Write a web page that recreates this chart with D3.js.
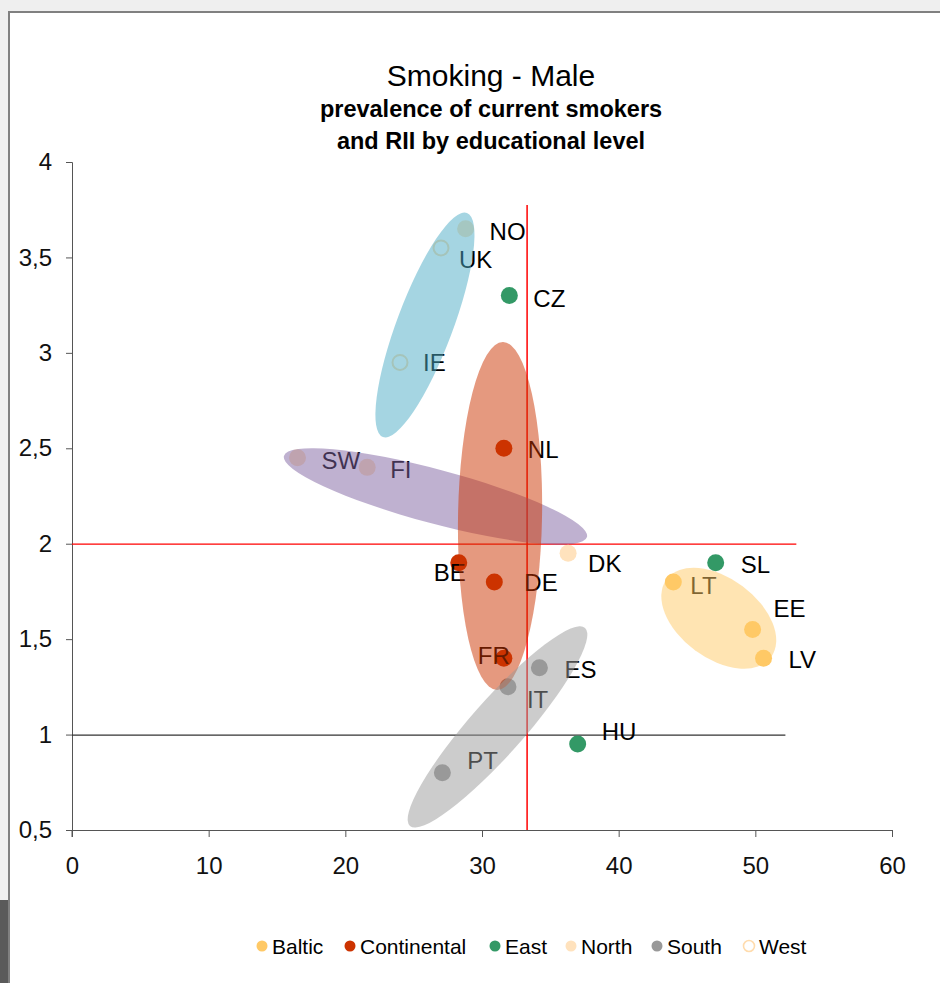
<!DOCTYPE html>
<html>
  <head>
    <meta charset="utf-8" />
    <title>Smoking - Male</title>
    <script src="https://d3js.org/d3.v7.min.js"></script>
    <style>
      body { margin: 0; background: #efefef; }
      text { font-family: "Liberation Sans", Arial, sans-serif; }
    </style>
  </head>
  <body>
    <script>
      // country values: prevalence of current smokers (%) and RII
      let countries = ["NO", "UK", "CZ", "IE", "NL", "SW", "FI", "DK", "BE", "DE",
                       "SL", "LT", "EE", "LV", "FR", "ES", "IT", "HU", "PT"];
      let prevalence = [28.8, 27.0, 32.0, 24.0, 31.6, 16.5, 21.6, 36.3, 28.3, 30.9,
                        47.1, 44.0, 49.8, 50.6, 31.6, 34.2, 31.9, 37.0, 27.1];
      let rii = [3.65, 3.55, 3.30, 2.95, 2.50, 2.45, 2.40, 1.95, 1.90, 1.80,
                 1.90, 1.80, 1.55, 1.40, 1.40, 1.35, 1.25, 0.95, 0.80];
      let region = ["North", "West", "East", "West", "Continental", "North", "North",
                    "North", "Continental", "Continental", "East", "Baltic", "Baltic",
                    "Baltic", "Continental", "South", "South", "East", "South"];

      let regions = ["Baltic", "Continental", "East", "North", "South", "West"];
      let xTicks = [0, 10, 20, 30, 40, 50, 60];
      let yTicks = [0.5, 1, 1.5, 2, 2.5, 3, 3.5, 4];

      let colors = {
        Baltic: "#ffc966",
        Continental: "#cc3300",
        East: "#339966",
        North: "#ffe2bd",
        South: "#999999",
        West: "#ffdcae",
      };

      // label offsets (px) from each point
      let nudge = {
        NO: [24, 11], UK: [18, 20], CZ: [24, 11], IE: [23, 9], NL: [24, 10],
        SW: [24, 11], FI: [23, 11], DK: [20, 19], BE: [-25, 18], DE: [30, 9],
        SL: [25, 10], LT: [17, 12], EE: [21, -13], LV: [25, 10], FR: [-26, 6],
        ES: [25, 10], IT: [19, 21], HU: [24, -4], PT: [25, -4],
      };

      // translucent group ellipses: major axis ends in data units, half width in px
      let halos = [
        { ends: [28.9, 3.733, 22.75, 2.559], half: 28, fill: "#4bacc6" },
        { ends: [15.51, 2.46, 37.68, 2.035], half: 27, fill: "#8064a2" },
        { ends: [31.54, 3.057, 31.1, 1.234], half: 42, fill: "#cc3300" },
        { ends: [24.73, 0.521, 37.54, 1.559], half: 27, fill: "#999999" },
        { ends: [43.5, 1.813, 51.15, 1.406], half: 40, fill: "#ffc966" },
      ];

      let width = 940;
      let height = 983;
      let svg = d3
        .select("body")
        .append("svg")
        .attr("width", width)
        .attr("height", height);

      // frame
      svg.append("rect").attr("width", width).attr("height", height).attr("fill", "#efefef");
      svg.append("rect").attr("x", 0).attr("y", 900).attr("width", 9).attr("height", 83).attr("fill", "#5a5a5a");
      svg.append("rect")
        .attr("x", 9).attr("y", 12)
        .attr("width", width).attr("height", height)
        .attr("fill", "white").attr("stroke", "#808080").attr("stroke-width", 2);

      let x = d3.scaleLinear().domain([0, 60]).range([72, 892]);
      let y = d3.scaleLinear().domain([0.5, 4]).range([830, 162]);

      // title
      let title = svg.append("g").attr("text-anchor", "middle");
      title.append("text").attr("x", 491).attr("y", 86).attr("font-size", 30).text("Smoking - Male");
      title.append("text").attr("x", 491).attr("y", 117).attr("font-size", 23.5).attr("font-weight", "bold")
        .text("prevalence of current smokers");
      title.append("text").attr("x", 491).attr("y", 149).attr("font-size", 23.5).attr("font-weight", "bold")
        .text("and RII by educational level");

      // axes
      let xAxis = svg.append("g")
        .attr("transform", "translate(0,830)")
        .call(d3.axisBottom(x).tickValues(xTicks).tickSize(7).tickPadding(20));
      let yAxis = svg.append("g")
        .attr("transform", "translate(72,0)")
        .call(d3.axisLeft(y).tickValues(yTicks).tickSize(6).tickPadding(14)
          .tickFormat((d) => String(d).replace(".", ",")));
      [xAxis, yAxis].forEach((g) => {
        g.select(".domain").attr("stroke", "#555");
        g.selectAll(".tick line").attr("stroke", "#555");
        g.selectAll(".tick text").attr("font-size", 24).attr("fill", "#111")
          .style("font-family", '"Liberation Sans", Arial, sans-serif');
      });
      // y axis continues down to the x tick length
      svg.append("line").attr("x1", 72).attr("x2", 72).attr("y1", 830).attr("y2", 837).attr("stroke", "#555");

      // reference lines
      svg.append("line")
        .attr("x1", x(0)).attr("x2", x(52.2)).attr("y1", y(1) + 0.5).attr("y2", y(1) + 0.5)
        .attr("stroke", "#333").attr("stroke-width", 1.2);
      svg.append("line")
        .attr("x1", x(0)).attr("x2", x(53)).attr("y1", y(2) + 0.5).attr("y2", y(2) + 0.5)
        .attr("stroke", "#ff0000").attr("stroke-width", 1.2);
      svg.append("line")
        .attr("x1", x(33.3)).attr("x2", x(33.3)).attr("y1", y(0.5)).attr("y2", y(3.775))
        .attr("stroke", "#ff0000").attr("stroke-width", 1.5);

      let pts = countries.map((c, i) => ({
        name: c, px: x(prevalence[i]), py: y(rii[i]), region: region[i],
      }));

      // points
      svg.selectAll(".pt")
        .data(pts)
        .join("circle")
        .attr("class", "pt")
        .attr("cx", (d) => d.px)
        .attr("cy", (d) => d.py)
        .attr("r", (d) => (d.region === "West" ? 7.5 : 8.5))
        .attr("fill", (d) => (d.region === "West" ? "none" : colors[d.region]))
        .attr("stroke", (d) => (d.region === "West" ? colors.West : "none"))
        .attr("stroke-width", 2);

      // labels
      svg.selectAll(".lbl")
        .data(pts)
        .join("text")
        .attr("class", "lbl")
        .attr("x", (d) => d.px + nudge[d.name][0])
        .attr("y", (d) => d.py + nudge[d.name][1])
        .attr("font-size", 24)
        .attr("fill", "#000")
        .text((d) => d.name);

      // ellipses on top, half transparent
      svg.selectAll(".halo")
        .data(halos)
        .join("ellipse")
        .attr("class", "halo")
        .each(function (h) {
          let x1 = x(h.ends[0]), y1 = y(h.ends[1]), x2 = x(h.ends[2]), y2 = y(h.ends[3]);
          let cx = (x1 + x2) / 2, cy = (y1 + y2) / 2;
          let a = Math.hypot(x2 - x1, y2 - y1) / 2;
          let ang = (Math.atan2(y2 - y1, x2 - x1) * 180) / Math.PI;
          d3.select(this)
            .attr("rx", a).attr("ry", h.half)
            .attr("transform", `translate(${cx},${cy}) rotate(${ang})`);
        })
        .attr("fill", (h) => h.fill)
        .attr("fill-opacity", 0.5);

      // legend
      let legendX = [262, 350, 495, 571, 657, 749];
      let legend = svg.append("g");
      regions.forEach((r, i) => {
        let g = legend.append("g").attr("transform", `translate(${legendX[i]},946)`);
        g.append("circle").attr("r", 5.5)
          .attr("fill", r === "West" ? "none" : colors[r])
          .attr("stroke", r === "West" ? colors.West : "none")
          .attr("stroke-width", 1.6);
        g.append("text").attr("x", 10).attr("y", 8).attr("font-size", 21).text(r);
      });
    </script>
  </body>
</html>
